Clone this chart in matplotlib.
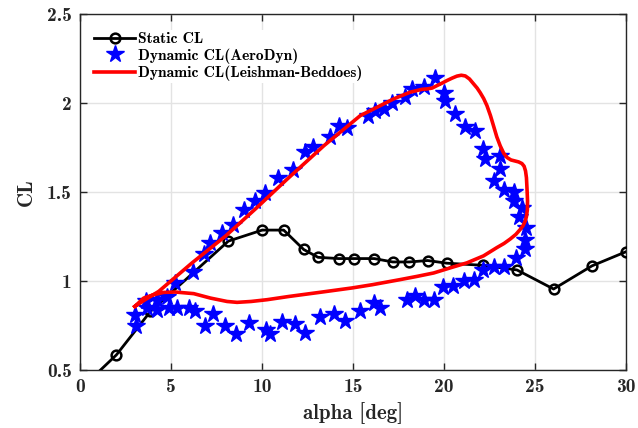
import os
import matplotlib
matplotlib.use("Agg")
import matplotlib.pyplot as plt
from matplotlib import font_manager

# Computer Modern bold shipped with matplotlib
_cm = os.path.join(matplotlib.get_data_path(), "fonts", "ttf", "cmb10.ttf")
font_manager.fontManager.addfont(_cm)
_cm_name = font_manager.FontProperties(fname=_cm).get_name()
plt.rcParams["font.family"] = [_cm_name, "DejaVu Serif"]
plt.rcParams["axes.formatter.use_mathtext"] = True

# Static polar (steady airfoil table)
static_alpha = [0.0, 2.0, 3.87, 8.15, 10.01, 11.19, 12.29, 13.08, 14.21, 15.04,
                16.17, 17.18, 18.09, 19.10, 20.16, 22.17, 24.01, 26.02, 28.13, 29.99]
static_cl = [0.39, 0.585, 0.829, 1.224, 1.286, 1.286, 1.177, 1.133, 1.126, 1.126,
             1.126, 1.107, 1.107, 1.115, 1.100, 1.088, 1.062, 0.955, 1.085, 1.164]

# AeroDyn unsteady output
aerodyn_alpha = [3.01, 3.09, 3.64, 4.24, 4.79, 5.24, 6.23, 6.80, 7.17, 7.81,
                 8.39, 8.99, 9.64, 10.19, 10.88, 11.71, 12.34, 12.78, 13.76, 14.21,
                 14.67, 15.80, 16.23, 16.72, 17.16, 17.87, 18.24, 18.88, 19.52, 19.98,
                 20.07, 20.58, 21.17, 21.72, 22.17, 22.27, 23.05, 23.09, 22.72, 23.27,
                 23.86, 23.86, 24.28, 24.13, 24.52, 24.46, 24.46,
                 23.95, 23.31, 22.76, 22.17, 21.66, 21.11, 20.49, 19.95, 19.43, 18.92,
                 18.42, 17.97, 16.50, 16.17, 15.40, 14.58, 13.98, 13.21, 12.38, 11.80,
                 11.10, 10.46, 10.24, 9.31, 8.58, 7.95, 7.29, 6.89, 6.34, 5.97,
                 5.34, 4.88, 4.24, 3.69]
aerodyn_cl = [0.810, 0.748, 0.885, 0.895, 0.912, 0.989, 1.053, 1.149, 1.215, 1.271,
              1.312, 1.398, 1.449, 1.497, 1.577, 1.622, 1.722, 1.754, 1.807, 1.869,
              1.858, 1.929, 1.957, 1.968, 2.002, 2.036, 2.079, 2.088, 2.141, 2.055,
              2.010, 1.938, 1.867, 1.844, 1.741, 1.684, 1.703, 1.632, 1.562, 1.510,
              1.502, 1.449, 1.412, 1.361, 1.295, 1.233, 1.180,
              1.130, 1.077, 1.079, 1.060, 1.004, 0.998, 0.974, 0.966, 0.895, 0.895,
              0.917, 0.895, 0.851, 0.876, 0.833, 0.776, 0.814, 0.797, 0.710, 0.759,
              0.767, 0.701, 0.726, 0.763, 0.701, 0.748, 0.816, 0.748, 0.829, 0.848,
              0.848, 0.848, 0.838, 0.848]

# Leishman-Beddoes model hysteresis loop
lb_alpha = [3.01, 3.50, 4.33, 6.16, 7.99, 9.64, 11.38, 13.40, 15.40, 16.32,
            17.23, 18.15, 18.80, 19.07, 19.35, 19.62, 19.90, 20.16, 20.45, 20.71,
            20.95, 21.17, 21.40, 21.63, 21.82, 21.99, 22.18, 22.36, 22.55, 22.72,
            22.90, 23.09, 23.28, 23.46, 23.68, 23.91, 24.10, 24.28, 24.40, 24.48,
            24.53, 24.56, 24.59, 24.58, 24.53, 24.46, 24.34, 24.19, 23.95, 23.64,
            23.30, 22.91, 22.17, 21.26, 20.35, 19.43, 18.52, 17.60, 16.05,
            14.95, 13.30, 11.47, 10.28, 9.40, 8.63, 8.08, 7.17, 6.25, 5.24, 4.60,
            4.05, 3.50, 3.01]
lb_cl = [0.857, 0.890, 0.942, 1.102, 1.252, 1.405, 1.572, 1.760, 1.929, 1.976,
         2.023, 2.061, 2.077, 2.079, 2.084, 2.098, 2.112, 2.126, 2.140, 2.151,
         2.156, 2.152, 2.135, 2.107, 2.084, 2.058, 2.025, 1.985, 1.930, 1.872,
         1.810, 1.759, 1.718, 1.694, 1.680, 1.674, 1.669, 1.660, 1.645, 1.618,
         1.580, 1.520, 1.450, 1.400, 1.362, 1.336, 1.310, 1.290, 1.262, 1.236,
         1.211, 1.188, 1.141, 1.102, 1.074, 1.045, 1.026, 1.008, 0.979,
         0.961, 0.938, 0.913, 0.895, 0.885, 0.880, 0.885, 0.904, 0.929, 0.938, 0.936,
         0.923, 0.904, 0.857]

x_ticks = [0, 5, 10, 15, 20, 25, 30]
y_ticks = [0.5, 1, 1.5, 2, 2.5]

fig = plt.figure(figsize=(6.38, 4.28), dpi=100)
ax = fig.add_axes([80 / 638, 1 - 370 / 428, 546 / 638, 356 / 428])

ax.plot(static_alpha, static_cl, color="black", lw=2.0, marker="o", ms=7,
        mfc="none", mec="black", mew=1.8, label="Static CL", zorder=3)
ax.plot(aerodyn_alpha, aerodyn_cl, ls="none", marker="*", ms=13, color="#0000ff",
        mec="#0000ff", label="Dynamic CL(AeroDyn)", zorder=4)
ax.plot(lb_alpha, lb_cl, color="#ff0000", lw=2.6, label="Dynamic CL(Leishman-Beddoes)",
        zorder=5, solid_joinstyle="round")

ax.set_xlim(0, 30)
ax.set_ylim(0.5, 2.5)
ax.set_xticks(x_ticks)
ax.set_yticks(y_ticks)
ax.set_xticklabels([f"{v:g}" for v in x_ticks])
ax.set_yticklabels([f"{v:g}" for v in y_ticks])
ax.grid(True, color="#e3e3e3", lw=1.0)
ax.set_axisbelow(True)
for s in ax.spines.values():
    s.set_color("#262626")
    s.set_linewidth(1.0)
ax.tick_params(direction="in", length=5, width=1.0, colors="#262626",
               labelsize=14, top=True, right=True, pad=6)
ax.set_xlabel("alpha [deg]", fontsize=15, color="#262626", labelpad=4)
ax.set_ylabel("CL", fontsize=15, color="#262626", labelpad=8)

leg = ax.legend(loc="upper left", bbox_to_anchor=(0.022, 0.955), fontsize=11.2,
                frameon=True, handlelength=2.6, handletextpad=0.2,
                borderaxespad=0.0, labelspacing=0.12, borderpad=0.15)
leg.get_frame().set_facecolor("white")
leg.get_frame().set_edgecolor("none")
leg.get_frame().set_alpha(1.0)
leg.get_frame().set_boxstyle("square", pad=0.0)

fig.savefig("out.png", dpi=100)
